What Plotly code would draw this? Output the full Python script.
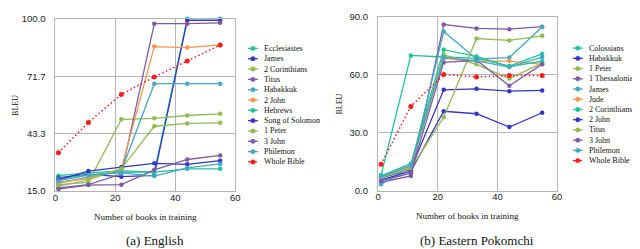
import plotly.graph_objects as go

W, H = 640, 249

# ---------------- data ----------------
x_books = [1, 11, 22, 33, 44, 55]

# (a) English
en_ecclesiastes = [22.6, 24.0, 25.0, 24.4, 100.0, 100.0]
en_james = [21.6, 23.3, 22.1, 22.8, 99.2, 99.2]
en_2corinthians = [18.2, 19.3, 50.4, 50.9, 52.3, 53.1]
en_titus = [16.6, 18.2, 23.4, 97.6, 97.6, 98.0]
en_habakkuk = [19.0, 22.0, 25.0, 68.0, 68.0, 68.0]
en_2john = [19.3, 21.3, 26.0, 86.3, 85.8, 87.1]
en_hebrews = [21.0, 23.0, 24.5, 24.4, 26.0, 26.0]
en_songofsolomon = [20.5, 24.9, 26.8, 28.7, 28.2, 30.0]
en_1peter = [17.5, 20.5, 26.0, 47.0, 48.4, 48.7]
en_3john = [16.0, 18.0, 18.2, 25.5, 30.6, 32.6]
en_philemon = [20.0, 22.9, 24.0, 22.4, 26.5, 28.4]
en_wholebible = [33.9, 48.9, 62.7, 71.3, 79.2, 87.1]

en_names = ["Ecclesiastes", "James", "2 Corinthians", "Titus", "Habakkuk", "2 John",
            "Hebrews", "Song of Solomon", "1 Peter", "3 John", "Philemon", "Whole Bible"]
en_series = [en_ecclesiastes, en_james, en_2corinthians, en_titus, en_habakkuk, en_2john,
             en_hebrews, en_songofsolomon, en_1peter, en_3john, en_philemon, en_wholebible]
en_ytickvals = [15.0, 43.33, 71.67, 100.0]
en_yticktext = ["15.0", "43.3", "71.7", "100.0"]

# (b) Eastern Pokomchi
po_colossians = [8.0, 70.0, 69.2, 68.5, 64.5, 70.8]
po_habakkuk = [6.5, 11.0, 52.2, 52.7, 51.5, 51.9]
po_1peter = [7.0, 12.5, 70.4, 65.4, 58.0, 66.0]
po_1thessalonians = [4.3, 7.6, 86.0, 84.0, 83.6, 84.9]
po_james = [3.2, 12.0, 82.4, 68.2, 68.9, 84.7]
po_jude = [6.8, 12.2, 68.5, 67.0, 67.1, 65.4]
po_2corinthians = [7.6, 13.9, 73.0, 69.5, 64.2, 67.0]
po_2john = [5.5, 10.0, 41.1, 39.8, 32.9, 40.3]
po_titus = [6.8, 11.5, 38.0, 78.8, 77.8, 80.2]
po_3john = [5.0, 9.0, 66.4, 67.5, 54.3, 65.5]
po_philemon = [7.2, 13.0, 69.0, 67.2, 64.0, 69.2]
po_wholebible = [13.6, 43.6, 60.1, 58.9, 59.6, 59.6]

po_names = ["Colossians", "Habakkuk", "1 Peter", "1 Thessalonians", "James", "Jude",
            "2 Corinthians", "2 John", "Titus", "3 John", "Philemon", "Whole Bible"]
po_series = [po_colossians, po_habakkuk, po_1peter, po_1thessalonians, po_james, po_jude,
             po_2corinthians, po_2john, po_titus, po_3john, po_philemon, po_wholebible]
po_ytickvals = [0, 30, 60, 90]
po_yticktext = ["0.0", "30.0", "60.0", "90.0"]

x_tickvals = [0, 20, 40, 60]

# ---------------- style ----------------
TEAL = "#1fc39a"
BLUE = "#3535c8"
GREEN = "#91bb55"
PURPLE = "#7e5ba4"
CYAN = "#42a8c6"
ORANGE = "#f8944c"
RED = "#ff1a1a"
palette = [TEAL, BLUE, GREEN, PURPLE, CYAN, ORANGE,
           TEAL, BLUE, GREEN, PURPLE, CYAN, RED]
GRID = "#b4b4b4"
SERIF = "Liberation Serif"
SANS = "Liberation Sans"
DOT = "1.5px,2.5px"


def px(xp):
    return xp / W


def py(yp):
    return 1 - yp / H


fig = go.Figure()

for names, series, xa, ya in [(en_names, en_series, "x", "y"), (po_names, po_series, "x2", "y2")]:
    for i, (nm, vals) in enumerate(zip(names, series)):
        col = palette[i]
        whole = (nm == "Whole Bible")
        fig.add_trace(go.Scatter(
            x=x_books, y=vals, name=nm, xaxis=xa, yaxis=ya,
            mode="lines+markers",
            line=dict(color=col, width=1.3 if not whole else 1.5, dash=DOT if whole else "solid"),
            marker=dict(color=col, size=4.5 if not whole else 5),
            cliponaxis=False, showlegend=False,
        ))

axis_common = dict(showgrid=True, gridcolor=GRID, gridwidth=1.2, showline=True,
                   linecolor=GRID, linewidth=1.2, mirror=True, zeroline=False,
                   ticks="", ticklabeloverflow="allow",
                   tickfont=dict(family=SANS, size=9.5, color="#222"))

L1, R1, T1, B1 = 45, 227, 5, 185.3
L2, R2, T2, B2 = 371.7, 553, 3, 184.7

fig.update_layout(
    width=W, height=H, margin=dict(l=0, r=0, t=0, b=0),
    paper_bgcolor="white", plot_bgcolor="white",
    xaxis=dict(domain=[px(L1), px(R1)], range=[0, 60], tickvals=x_tickvals,
               anchor="y", ticklabelstandoff=-3, **axis_common),
    yaxis=dict(domain=[py(B1), py(T1)], range=[15, 100], tickvals=en_ytickvals,
               ticktext=en_yticktext, anchor="x", ticklabelstandoff=7, **axis_common),
    xaxis2=dict(domain=[px(L2), px(R2)], range=[0, 60], tickvals=x_tickvals,
                anchor="y2", ticklabelstandoff=-3, **axis_common),
    yaxis2=dict(domain=[py(B2), py(T2)], range=[0, 90], tickvals=po_ytickvals,
                ticktext=po_yticktext, anchor="x2", ticklabelstandoff=7, **axis_common),
)

annotations = []
shapes = []

# axis titles and captions
for cx, cy, txt, size, ang in [
    (5, (T1 + B1) / 2, "BLEU", 8, -90),
    (333, (T2 + B2) / 2, "BLEU", 8, -90),
    ((L1 + R1) / 2, 212, "Number of books in training", 9, 0),
    ((L2 + R2) / 2, 211, "Number of books in training", 9, 0),
    (146, 237, "(a) English", 13, 0),
    (472, 237, "(b) Eastern Pokomchi", 13, 0),
]:
    annotations.append(dict(x=px(cx), y=py(cy), xref="paper", yref="paper", text=txt,
                            showarrow=False, textangle=ang, xanchor="center", yanchor="middle",
                            font=dict(family=SERIF, size=size, color="#111")))

# custom legends
for names, mx, ty0, dy in [(en_names, 245, 36.0, 10.8), (po_names, 574, 35.7, 10.7)]:
    for i, nm in enumerate(names):
        col = palette[i]
        yy = ty0 + i * dy
        shapes.append(dict(type="line", xref="paper", yref="paper",
                           x0=px(mx - 5), x1=px(mx + 5), y0=py(yy), y1=py(yy),
                           line=dict(color=col, width=1.3,
                                     dash="dot" if nm == "Whole Bible" else "solid")))
        shapes.append(dict(type="circle", xref="paper", yref="paper",
                           x0=px(mx - 2.3), x1=px(mx + 2.3), y0=py(yy + 2.3), y1=py(yy - 2.3),
                           fillcolor=col, line=dict(color=col, width=0.5)))
        annotations.append(dict(x=px(mx + 9), y=py(yy), xref="paper", yref="paper", text=nm,
                                showarrow=False, xanchor="left", yanchor="middle",
                                font=dict(family=SERIF, size=8, color="#111")))

fig.update_layout(annotations=annotations, shapes=shapes)

fig.write_html("out.html")
